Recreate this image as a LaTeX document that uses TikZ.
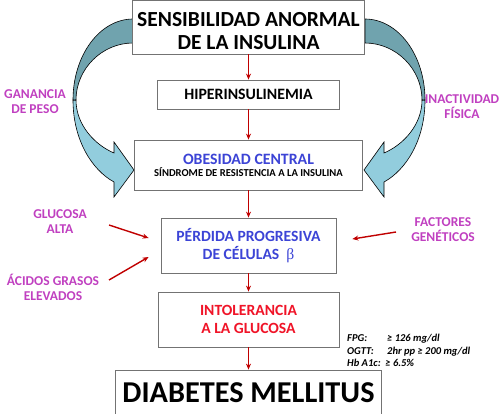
\documentclass[tikz,border=0pt]{standalone}
\usepackage{fontspec}
\setmainfont{Carlito}
\newfontfamily\betafont{Liberation Serif}
\usetikzlibrary{arrows.meta}

\definecolor{causecol}{RGB}{192,64,192}
\definecolor{stageblue}{RGB}{60,68,214}
\definecolor{stagered}{RGB}{240,20,40}
\definecolor{arrowred}{RGB}{192,0,0}
\definecolor{bandtop}{RGB}{112,163,174}
\definecolor{bandlow}{RGB}{146,205,221}

\begin{document}
\begin{tikzpicture}[
    x=1pt, y=-1pt,
    stage/.style={draw=black!55, line width=0.8pt, fill=white, align=center,
                  inner sep=0pt},
    flow/.style={draw=arrowred, line width=1.4pt,
                 -{Stealth[length=6pt,width=5pt]}},
    factor/.style={text=causecol, align=center,
                   font=\fontsize{13.5}{15}\selectfont\bfseries},
    band/.style={draw=black, line width=0.6pt}
  ]
  \useasboundingbox (0,0) rectangle (500,414);

  % The two wide curved arrows, the right one mirrored.
  \foreach \dx/\sx in {0/1, 498/-1} {
    \begin{scope}[shift={(\dx,0)}, xscale=\sx]
      \fill[bandlow, band] (73,100) .. controls (73,140) and (92,170) .. (114,182)
        -- (114,197) -- (134,170) -- (114,142) -- (114,153)
        .. controls (95,145) and (76,125) .. (76,100) -- cycle;
      \fill[bandtop, band] (133,19) .. controls (100,19) and (73,55) .. (73,100)
        -- (76,100) .. controls (76,69) and (102,43) .. (133,43) -- cycle;
    \end{scope}
  }

  % The chain of stages.
  \node[stage, minimum width=232, minimum height=54] (sens) at (248.5,27) {};
  \node[align=center, font=\fontsize{21.5}{23}\selectfont\bfseries] (sens-t)
    at (248.5,31.5) {SENSIBILIDAD ANORMAL\\DE LA INSULINA};
  \node[stage, minimum width=182, minimum height=29,
        font=\fontsize{15.8}{17}\selectfont\bfseries] (hiper) at (248.5,94.5)
    {HIPERINSULINEMIA};
  \node[stage, minimum width=228, minimum height=50] (obes) at (248.5,165)
    {\fontsize{15.8}{17}\selectfont\bfseries\color{stageblue}OBESIDAD CENTRAL\\[0pt]
     \fontsize{10.6}{12}\selectfont\bfseries SÍNDROME DE RESISTENCIA A LA INSULINA};
  \node[stage, minimum width=175, minimum height=55, text=stageblue,
        font=\fontsize{15.6}{18}\selectfont\bfseries] (perd) at (248.5,245.5)
    {PÉRDIDA PROGRESIVA\\DE CÉLULAS\ \ {\betafont\mdseries β}};
  \node[stage, minimum width=181, minimum height=55, text=stagered,
        font=\fontsize{15.6}{18}\selectfont\bfseries] (intol) at (248.5,319.5)
    {INTOLERANCIA\\A LA GLUCOSA};
  \node[stage, minimum width=266, minimum height=46,
        font=\fontsize{30.3}{32}\selectfont\bfseries] (dm) at (248.5,393)
    {DIABETES MELLITUS};

  \draw[flow] (sens) -- (hiper);
  \draw[flow] (hiper) -- (obes);
  \draw[flow] (obes) -- (perd);
  \draw[flow] (perd) -- (intol);
  \draw[flow] (intol) -- (dm);

  % Factors acting from the sides.
  \node[factor] (gan) at (35,102) {GANANCIA\\DE PESO};
  \node[factor] (inac) at (462,107) {INACTIVIDAD\\FÍSICA};
  \node[factor] (gluc) at (60,222) {GLUCOSA\\ALTA};
  \node[factor] (acid) at (53,287) {ÁCIDOS GRASOS\\ELEVADOS};
  \node[factor] (fact) at (443,230) {FACTORES\\GENÉTICOS};

  \coordinate (gluc-a) at (109,225);
  \coordinate (acid-a) at (109,280);
  \coordinate (fact-a) at (396,232);
  \draw[flow] (gluc-a) -- ([xshift=-12pt,yshift=7.5pt]perd.west);
  \draw[flow] (acid-a) -- ([xshift=-12pt,yshift=-11.5pt]perd.west);
  \draw[flow] (fact-a) -- ([xshift=16pt,yshift=6.5pt]perd.east);

  % Diagnostic thresholds.
  \node[anchor=north west, align=left, inner sep=0pt,
        font=\fontsize{10.5}{12.5}\selectfont\bfseries\itshape] (crit) at (347,334)
    {\makebox[40pt][l]{FPG:}≥ 126 mg/dl\\
     \makebox[40pt][l]{OGTT:}2hr pp ≥ 200 mg/dl\\
     Hb A1c:\ \ ≥ 6.5\%};

\end{tikzpicture}
\end{document}
